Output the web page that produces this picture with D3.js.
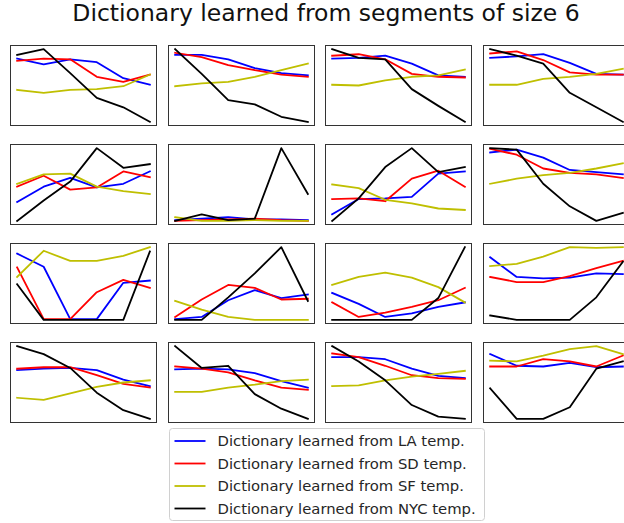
<!DOCTYPE html>
<html>
<head>
<meta charset="utf-8">
<script src="https://cdn.jsdelivr.net/npm/d3@7"></script>
<style>
  html, body { margin: 0; padding: 0; background: #fff; }
  svg { display: block; }
</style>
</head>
<body>
<svg id="chart" width="624" height="523"></svg>
<script>
// Six-step dictionary atoms, one array per city, one row of 6 values per atom (16 atoms).
const steps = [0, 1, 2, 3, 4, 5];

const atomsLA = [
  [87, 79, 86, 82, 60, 51],
  [92, 92, 86, 74, 67, 64],
  [87, 88, 91, 80, 64, 62],
  [88, 90, 93, 81, 66, 65],
  [26, 47, 59, 46, 51, 68],
  [1, 3, 5, 2, 2, 1],
  [9, 30, 31, 33, 65, 68],
  [94, 98, 87, 70, 67, 64],
  [91, 73, 1, 1, 51, 54],
  [1, 4, 27, 41, 30, 35],
  [37, 22, 4, 9, 18, 24],
  [86, 59, 57, 58, 64, 63],
  [67, 69, 70, 67, 54, 45],
  [68, 69, 68, 63, 52, 43],
  [85, 85, 82, 69, 59, 56],
  [89, 73, 72, 77, 71, 72]
];

const atomsSD = [
  [84, 87, 86, 62, 55, 65],
  [95, 89, 78, 71, 65, 62],
  [91, 93, 86, 66, 62, 61],
  [94, 97, 85, 68, 65, 65],
  [47, 62, 43, 46, 68, 60],
  [0, 1, 2, 3, 1, 0],
  [30, 31, 27, 58, 69, 47],
  [99, 91, 72, 66, 64, 59],
  [72, 1, 1, 38, 55, 44],
  [4, 28, 48, 44, 28, 29],
  [24, 4, 10, 18, 27, 44],
  [59, 52, 52, 60, 71, 81],
  [69, 71, 71, 60, 48, 43],
  [72, 69, 64, 53, 43, 40],
  [90, 85, 73, 60, 56, 55],
  [72, 72, 82, 79, 72, 87]
];

const atomsSF = [
  [44, 40, 44, 45, 49, 65],
  [49, 53, 55, 62, 71, 80],
  [51, 50, 57, 62, 64, 72],
  [51, 51, 59, 62, 66, 73],
  [51, 64, 65, 47, 41, 37],
  [5, 0, 0, 1, 0, 0],
  [50, 45, 29, 24, 17, 15],
  [51, 58, 63, 66, 72, 79],
  [59, 95, 81, 81, 88, 100],
  [26, 14, 4, 0, 0, 0],
  [48, 59, 65, 58, 45, 24],
  [74, 77, 87, 100, 99, 100],
  [29, 26, 35, 44, 50, 53],
  [37, 37, 43, 47, 52, 54],
  [45, 46, 53, 58, 62, 66],
  [80, 79, 87, 96, 100, 89]
];

const atomsNYC = [
  [92, 100, 67, 33, 20, 0],
  [100, 66, 30, 24, 7, 0],
  [100, 88, 86, 45, 22, 0],
  [100, 91, 80, 40, 20, 0],
  [0, 28, 54, 100, 73, 78],
  [0, 9, 1, 3, 100, 37],
  [0, 31, 74, 100, 67, 74],
  [100, 98, 51, 20, 0, 11],
  [49, 0, 0, 0, 0, 94],
  [0, 0, 31, 64, 100, 26],
  [0, 0, 0, 0, 30, 100],
  [6, 0, 0, 0, 31, 80],
  [100, 89, 70, 36, 12, 0],
  [100, 70, 73, 34, 14, 0],
  [100, 79, 53, 19, 3, 0],
  [42, 0, 0, 16, 69, 79]
];

const seriesNames = [
  "Dictionary learned from LA temp.",
  "Dictionary learned from SD temp.",
  "Dictionary learned from SF temp.",
  "Dictionary learned from NYC temp."
];
const seriesColors = ["#0000ff", "#ff0000", "#bfbf00", "#000000"];
const seriesData = [atomsLA, atomsSD, atomsSF, atomsNYC];

const titleText = "Dictionary learned from segments of size 6";

const svg = d3.select("#chart");

svg.append("text")
  .attr("x", 326)
  .attr("y", 21)
  .attr("text-anchor", "middle")
  .style("font-family", "'DejaVu Sans', sans-serif")
  .style("font-size", "23.5px")
  .style("fill", "#111")
  .text(titleText);

// Grid of small multiples
const nCols = 4;
const panelW = 146, panelH = 80;
const colPitch = 157.7, rowPitch = 99;
const left0 = 10, top0 = 45;

const x = d3.scaleLinear().domain([-0.25, 5.25]).range([0, panelW]);
const y = d3.scaleLinear().domain([-5, 105]).range([panelH, 0]);
const line = d3.line().x((d, i) => x(steps[i])).y(d => y(d));

for (let k = 0; k < 16; k++) {
  const r = Math.floor(k / nCols), c = k % nCols;
  const g = svg.append("g")
    .attr("transform", `translate(${Math.round(left0 + c * colPitch) + 0.5},${top0 + r * rowPitch + 0.5})`);

  g.append("rect")
    .attr("width", panelW)
    .attr("height", panelH)
    .attr("fill", "#fff");

  seriesData.forEach((s, si) => {
    g.append("path")
      .datum(s[k])
      .attr("d", line)
      .attr("fill", "none")
      .attr("stroke", seriesColors[si])
      .attr("stroke-width", 1.8)
      .attr("stroke-linejoin", "round")
      .attr("stroke-linecap", "square");
  });

  g.append("rect")
    .attr("width", panelW)
    .attr("height", panelH)
    .attr("fill", "none")
    .attr("stroke", "#333")
    .attr("stroke-width", 1);
}

// Legend
const legend = svg.append("g").attr("transform", "translate(169.5,428.5)");
legend.append("rect")
  .attr("width", 315)
  .attr("height", 92)
  .attr("rx", 3)
  .attr("fill", "#fff")
  .attr("fill-opacity", 0.8)
  .attr("stroke", "#d0d0d0")
  .attr("stroke-width", 1);

seriesNames.forEach((name, i) => {
  const yy = 12.5 + i * 22.5;
  legend.append("line")
    .attr("x1", 5).attr("x2", 36)
    .attr("y1", yy).attr("y2", yy)
    .attr("stroke", seriesColors[i])
    .attr("stroke-width", 1.8);
  legend.append("text")
    .attr("x", 48)
    .attr("y", yy + 5)
    .style("font-family", "'DejaVu Sans', sans-serif")
    .style("font-size", "14.8px")
    .style("fill", "#262626")
    .text(name);
});
</script>
</body>
</html>
